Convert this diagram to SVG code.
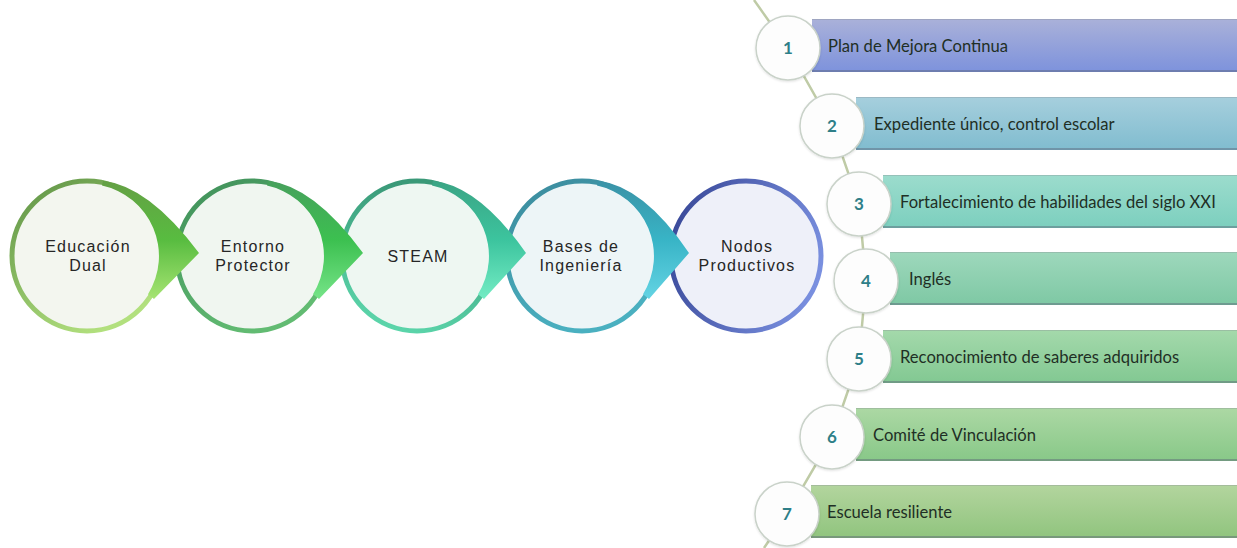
<svg xmlns="http://www.w3.org/2000/svg" width="1237" height="548" viewBox="0 0 1237 548">
<style>
.ring{stroke-width:5}
.ctext{font-family:"Liberation Sans",Arial,sans-serif;font-size:16px;letter-spacing:1.2px;fill:#262626;text-anchor:middle}
.btext{font-family:Lato,"Liberation Sans",sans-serif;font-size:16.6px;fill:#1f2f25}
.num{font-family:Lato,"Liberation Sans",sans-serif;font-size:17px;font-weight:bold;fill:#2e7f88;text-anchor:middle}
.nc{fill:#fdfdfd;stroke:#c9d2c9;stroke-width:1.5}
.bl{fill:#5b6478;opacity:0.45}
.tl{fill:#8a8f94;opacity:0.35}
</style>
<defs>
<linearGradient id="g1" x1="0" y1="0" x2="0.6" y2="1"><stop offset="0" stop-color="#5e9245"/><stop offset="1" stop-color="#b2e07e"/></linearGradient>
<linearGradient id="g2" x1="0" y1="0" x2="0.5" y2="1"><stop offset="0" stop-color="#3f8f5a"/><stop offset="1" stop-color="#62bb72"/></linearGradient>
<linearGradient id="g3" x1="0.3" y1="0" x2="0" y2="1"><stop offset="0" stop-color="#3a9978"/><stop offset="1" stop-color="#5fdcb0"/></linearGradient>
<linearGradient id="g4" x1="0" y1="0" x2="0.4" y2="1"><stop offset="0" stop-color="#3b8a9c"/><stop offset="1" stop-color="#4ab0c0"/></linearGradient>
<linearGradient id="g5" x1="0" y1="0.3" x2="1" y2="0.6"><stop offset="0" stop-color="#3a4a9a"/><stop offset="1" stop-color="#7a90e0"/></linearGradient>
<linearGradient id="a1" x1="0" y1="0" x2="0" y2="1"><stop offset="0" stop-color="#64a044"/><stop offset="0.5" stop-color="#58bc40"/><stop offset="1" stop-color="#a6e472"/></linearGradient>
<linearGradient id="a2" x1="0" y1="0" x2="0" y2="1"><stop offset="0" stop-color="#47a05c"/><stop offset="0.5" stop-color="#3cc050"/><stop offset="1" stop-color="#76e488"/></linearGradient>
<linearGradient id="a3" x1="0" y1="0" x2="0" y2="1"><stop offset="0" stop-color="#3aa484"/><stop offset="0.5" stop-color="#3cc49e"/><stop offset="1" stop-color="#74ecc4"/></linearGradient>
<linearGradient id="a4" x1="0" y1="0" x2="0" y2="1"><stop offset="0" stop-color="#3a92a6"/><stop offset="0.5" stop-color="#38b4c6"/><stop offset="1" stop-color="#64d4e4"/></linearGradient>
<linearGradient id="b1" x1="0" y1="0" x2="0" y2="1"><stop offset="0" stop-color="#aab1d9"/><stop offset="1" stop-color="#7d92dc"/></linearGradient>
<linearGradient id="b2" x1="0" y1="0" x2="0" y2="1"><stop offset="0" stop-color="#a6cfdd"/><stop offset="1" stop-color="#80bccf"/></linearGradient>
<linearGradient id="b3" x1="0" y1="0" x2="0" y2="1"><stop offset="0" stop-color="#9cdccd"/><stop offset="1" stop-color="#7ccfbe"/></linearGradient>
<linearGradient id="b4" x1="0" y1="0" x2="0" y2="1"><stop offset="0" stop-color="#9ed8bc"/><stop offset="1" stop-color="#7ec8a4"/></linearGradient>
<linearGradient id="b5" x1="0" y1="0" x2="0" y2="1"><stop offset="0" stop-color="#a4d9ab"/><stop offset="1" stop-color="#82c892"/></linearGradient>
<linearGradient id="b6" x1="0" y1="0" x2="0" y2="1"><stop offset="0" stop-color="#acd8a4"/><stop offset="1" stop-color="#88c888"/></linearGradient>
<linearGradient id="b7" x1="0" y1="0" x2="0" y2="1"><stop offset="0" stop-color="#b3d59e"/><stop offset="1" stop-color="#90c47e"/></linearGradient>
<filter id="sh" x="-20%" y="-20%" width="140%" height="140%"><feDropShadow dx="0" dy="1" stdDeviation="1" flood-color="#000" flood-opacity="0.12"/></filter>
</defs>
<rect width="1237" height="548" fill="#ffffff"/>

<!-- left process circles -->
<g id="node-educacion-dual">
<circle cx="87" cy="256" r="75" fill="#f3f6ef" stroke="url(#g1)" class="ring"/>
<text class="ctext" x="88" y="252">Educación</text>
<text class="ctext" x="88" y="271">Dual</text>
</g>
<g id="node-entorno-protector">
<circle cx="252" cy="256" r="75" fill="#f0f6f0" stroke="url(#g2)" class="ring"/>
<text class="ctext" x="253" y="252">Entorno</text>
<text class="ctext" x="253" y="271">Protector</text>
</g>
<g id="node-steam">
<circle cx="417" cy="256" r="75" fill="#eef7f2" stroke="url(#g3)" class="ring"/>
<text class="ctext" x="418" y="262">STEAM</text>
</g>
<g id="node-bases-ingenieria">
<circle cx="582" cy="256" r="75" fill="#edf5f7" stroke="url(#g4)" class="ring"/>
<text class="ctext" x="581" y="252">Bases de</text>
<text class="ctext" x="581" y="271">Ingeniería</text>
</g>
<g id="node-nodos-productivos">
<circle cx="746" cy="256" r="75" fill="#eef0f9" stroke="url(#g5)" class="ring"/>
<text class="ctext" x="747" y="252">Nodos</text>
<text class="ctext" x="747" y="271">Productivos</text>
</g>

<g id="connectors">
<path fill="url(#a1)" d="M103 180.7 Q149 186 199 253 L154 299 L148 294.2 A72 72 0 0 0 102 185.6 Z"/>
<path fill="url(#a2)" d="M268 180.7 Q314 186 363 253 L319 299 L313 294.2 A72 72 0 0 0 267 185.6 Z"/>
<path fill="url(#a3)" d="M433 180.7 Q479 186 526 253 L484 299 L478 294.2 A72 72 0 0 0 432 185.6 Z"/>
<path fill="url(#a4)" d="M598 180.7 Q644 186 689 253 L649 299 L643 294.2 A72 72 0 0 0 597 185.6 Z"/>
<polyline fill="none" stroke="#bfcba6" stroke-width="2.5" points="754,0 788,48 832,126 859,204 866,281 859,359 832,437 787,514 764,548"/>
</g>

<!-- right list -->
<g id="item-1">
<rect x="812" y="19" width="430" height="53" fill="url(#b1)"/>
<rect x="812" y="19" width="430" height="1" class="tl"/>
<rect x="812" y="70" width="430" height="2" class="bl"/>
<circle cx="788" cy="48" r="32" class="nc" filter="url(#sh)"/>
<text class="num" x="788" y="54">1</text>
<text class="btext" x="828" y="52">Plan de Mejora Continua</text>
</g>
<g id="item-2">
<rect x="856" y="97" width="386" height="53" fill="url(#b2)"/>
<rect x="856" y="97" width="386" height="1" class="tl"/>
<rect x="856" y="148" width="386" height="2" class="bl"/>
<circle cx="832" cy="126" r="32" class="nc" filter="url(#sh)"/>
<text class="num" x="832" y="132">2</text>
<text class="btext" x="874" y="130">Expediente único, control escolar</text>
</g>
<g id="item-3">
<rect x="883" y="175" width="359" height="53" fill="url(#b3)"/>
<rect x="883" y="175" width="359" height="1" class="tl"/>
<rect x="883" y="226" width="359" height="2" class="bl"/>
<circle cx="859" cy="204" r="32" class="nc" filter="url(#sh)"/>
<text class="num" x="859" y="210">3</text>
<text class="btext" x="900" y="208">Fortalecimiento de habilidades del siglo XXI</text>
</g>
<g id="item-4">
<rect x="890" y="252" width="352" height="53" fill="url(#b4)"/>
<rect x="890" y="252" width="352" height="1" class="tl"/>
<rect x="890" y="303" width="352" height="2" class="bl"/>
<circle cx="866" cy="281" r="32" class="nc" filter="url(#sh)"/>
<text class="num" x="866" y="287">4</text>
<text class="btext" x="909" y="285">Inglés</text>
</g>
<g id="item-5">
<rect x="883" y="330" width="359" height="53" fill="url(#b5)"/>
<rect x="883" y="330" width="359" height="1" class="tl"/>
<rect x="883" y="381" width="359" height="2" class="bl"/>
<circle cx="859" cy="359" r="32" class="nc" filter="url(#sh)"/>
<text class="num" x="859" y="365">5</text>
<text class="btext" x="900" y="363">Reconocimiento de saberes adquiridos</text>
</g>
<g id="item-6">
<rect x="856" y="408" width="386" height="53" fill="url(#b6)"/>
<rect x="856" y="408" width="386" height="1" class="tl"/>
<rect x="856" y="459" width="386" height="2" class="bl"/>
<circle cx="832" cy="437" r="32" class="nc" filter="url(#sh)"/>
<text class="num" x="832" y="443">6</text>
<text class="btext" x="873" y="441">Comité de Vinculación</text>
</g>
<g id="item-7">
<rect x="811" y="485" width="431" height="53" fill="url(#b7)"/>
<rect x="811" y="485" width="431" height="1" class="tl"/>
<rect x="811" y="536" width="431" height="2" class="bl"/>
<circle cx="787" cy="514" r="32" class="nc" filter="url(#sh)"/>
<text class="num" x="787" y="520">7</text>
<text class="btext" x="827" y="518">Escuela resiliente</text>
</g>
</svg>
